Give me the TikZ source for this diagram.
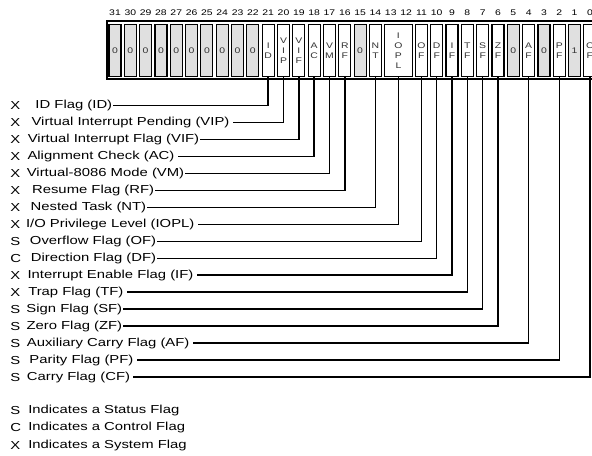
\documentclass[tikz,border=0pt]{standalone}
\usepackage{fontspec}
\setmainfont[FakeStretch=1.28]{Liberation Sans}
\usepackage{tikz}

\begin{document}
\begin{tikzpicture}[x=0.75pt,y=-0.75pt,
    frame/.style={draw,line width=1.9pt},
    cell/.style={draw,line width=0.85pt,minimum width=9pt,minimum height=39pt,inner sep=0pt,
                 align=center,font=\fontsize{6.1}{7.4}\selectfont,text=black!80},
    rescell/.style={cell,fill=black!12},
    flagcell/.style={cell,fill=white},
    bitnum/.style={inner sep=0pt,font=\fontsize{6.1}{6.5}\selectfont},
    kind/.style={anchor=west,inner sep=0pt,font=\fontsize{8.7}{10}\selectfont},
    flag/.style={inner ysep=0pt,font=\fontsize{8.7}{10}\selectfont},
    wire/.style={line width=1.1pt}]
  \useasboundingbox (0,0) rectangle (592,455);
  \clip (0,0) rectangle (592,455);

  % register
  \draw[frame] (107,21) rectangle (630,79);
  \foreach \b in {0,...,31}
    \node[bitnum] (n\b) at ({115+(31-\b)*15.32},13) {\b};
  \foreach \b/\v in {31/0,30/0,29/0,28/0,27/0,26/0,25/0,24/0,23/0,22/0,15/0,5/0,3/0,1/1}
    \node[rescell] (c\b) at ({115+(31-\b)*15.32},50.5) {\v};
  \foreach \b/\n/\t in {21/ID/{I\\D},20/VIP/{V\\I\\P},19/VIF/{V\\I\\F},18/AC/{A\\C},17/VM/{V\\M},
                        16/RF/{R\\F},14/NT/{N\\T},11/OF/{O\\F},10/DF/{D\\F},9/IF/{I\\F},8/TF/{T\\F},
                        7/SF/{S\\F},6/ZF/{Z\\F},4/AF/{A\\F},2/PF/{P\\F},0/CF/{C\\F}}
    \node[flagcell] (c\n) at ({115+(31-\b)*15.32},50.5) {\t};
  \node[flagcell,minimum width=20.5pt] (cIOPL) at ({115+18.5*15.32},50.5) {I\\O\\P\\L};

  % flag names, each ends where its line starts
  \foreach \i/\k/\t/\n/\ex/\g in {0/X/{ID Flag (ID)}/ID/113/0.4, 1/X/{Virtual Interrupt Pending (VIP)}/VIP/233/2.5,
      2/X/{Virtual Interrupt Flag (VIF)}/VIF/200/0.4, 3/X/{Alignment Check (AC)}/AC/178/2.5,
      4/X/{Virtual-8086 Mode (VM)}/VM/185/0.4, 5/X/{Resume Flag (RF)}/RF/155/0.4,
      6/X/{Nested Task (NT)}/NT/147/0.4, 7/X/{I/O Privilege Level (IOPL)}/IOPL/198/2.5,
      8/S/{Overflow Flag (OF)}/OF/157/0.4, 9/C/{Direction Flag (DF)}/DF/157/0.4,
      10/X/{Interrupt Enable Flag (IF)}/IF/197/2.5, 11/X/{Trap Flag (TF)}/TF/127/2.5,
      12/S/{Sign Flag (SF)}/SF/123/0.4, 13/S/{Zero Flag (ZF)}/ZF/123/0.4,
      14/S/{Auxiliary Carry Flag (AF)}/AF/193/2.5, 15/S/{Parity Flag (PF)}/PF/137/2.5,
      16/S/{Carry Flag (CF)}/CF/133/2}
  {
    \node[kind] (k\n) at (10,{105.5+16.97*\i}) {\k};
    \node[flag,anchor=east,inner xsep=\g pt] (l\n) at (\ex,{105.5+16.97*\i}) {\t};
    \draw[wire] (l\n.east) -| (c\n.south);
  }

  % legend
  \node[kind] (kS) at (10,410) {S};
  \node[flag,anchor=west,inner xsep=0pt] (lS) at (28,410) {Indicates a Status Flag};
  \node[kind] (kC) at (10,427.5) {C};
  \node[flag,anchor=west,inner xsep=0pt] (lC) at (28,427.5) {Indicates a Control Flag};
  \node[kind] (kX) at (10,445) {X};
  \node[flag,anchor=west,inner xsep=0pt] (lX) at (28,445) {Indicates a System Flag};
\end{tikzpicture}
\end{document}
